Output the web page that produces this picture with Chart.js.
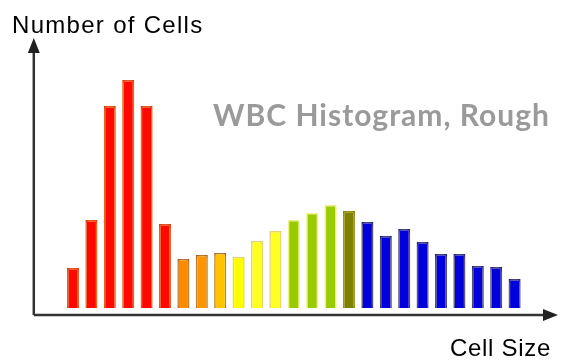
<!DOCTYPE html>
<html>
<head>
<meta charset="utf-8">
<script src="https://cdn.jsdelivr.net/npm/chart.js@4"></script>
<style>
  body { margin: 0; background: #fff; }
  #wrap { width: 561px; height: 360px; position: relative; }
</style>
</head>
<body>
<div id="wrap"><canvas id="chart"></canvas></div>
<script>
// cell size bins and counts
const bins = ["1", "2", "3", "4", "5", "6", "7", "8", "9", "10", "11", "12", "13",
  "14", "15", "16", "17", "18", "19", "20", "21", "22", "23", "24", "25"];
const counts = [40, 88, 202, 228, 202, 84, 49, 53, 55, 51, 67, 77, 88,
  95, 103, 97, 86, 72, 79, 66, 54, 54, 42, 41, 29];
const titleText = "WBC Histogram, Rough";
const yLabel = "Number of Cells";
const xLabel = "Cell Size";

// colours per bar
const fills = [
  "#ff0800", "#ff0800", "#ff0800", "#ff0800", "#ff0800", "#ff0800",
  "#ff8a00", "#ff9500", "#ffc400",
  "#ffff00", "#ffff22", "#ffff22",
  "#99cc00", "#99cc00", "#99cc00", "#808000",
  "#0000dd", "#0000dd", "#0000dd", "#0000dd", "#0000dd", "#0000dd", "#0000dd", "#0000dd", "#0000dd"
];
const borders = [
  "#d42000", "#d42000", "#d42000", "#d42000", "#d42000", "#d42000",
  "#9a4a1a", "#9a4a1a", "#9a4a1a",
  "#e0c870", "#e0c870", "#e0c870",
  "#e8f090", "#e8f090", "#e8f090", "#6e6e00",
  "#000088", "#000088", "#000088", "#000088", "#000088", "#000088", "#000088", "#000088", "#000088"
];

const decor = {
  id: "decor",
  beforeDatasetsDraw(chart) {
    const ctx = chart.ctx;
    ctx.save();
    ctx.shadowColor = "rgba(255, 240, 110, 0.9)";
    ctx.shadowBlur = 5;
  },
  afterDatasetsDraw(chart) {
    chart.ctx.restore();
  },
  afterDraw(chart) {
    const ctx = chart.ctx;
    const a = chart.chartArea;
    const ax = a.left - 30;
    const ay = a.bottom + 7;
    ctx.save();
    ctx.strokeStyle = "#333";
    ctx.fillStyle = "#222";
    ctx.lineWidth = 2.5;
    ctx.beginPath();
    ctx.moveTo(ax, ay);
    ctx.lineTo(ax, 50);
    ctx.moveTo(ax, ay);
    ctx.lineTo(546, ay);
    ctx.stroke();
    // arrow heads
    ctx.beginPath();
    ctx.moveTo(ax, 38);
    ctx.lineTo(ax - 6, 53);
    ctx.lineTo(ax + 6, 53);
    ctx.closePath();
    ctx.fill();
    ctx.beginPath();
    ctx.moveTo(558, ay);
    ctx.lineTo(543, ay - 6);
    ctx.lineTo(543, ay + 6);
    ctx.closePath();
    ctx.fill();

    ctx.fillStyle = "#000";
    ctx.font = "24px 'Liberation Sans', Arial, sans-serif";
    ctx.textBaseline = "alphabetic";
    ctx.textAlign = "left";
    ctx.letterSpacing = "1.3px";
    ctx.fillText(yLabel, 12, 33);
    ctx.letterSpacing = "0.7px";
    ctx.textAlign = "left";
    ctx.fillText(xLabel, 450, 356);

    ctx.fillStyle = "#9a9a9a";
    ctx.font = "bold 30px Lato, 'Open Sans', sans-serif";
    ctx.letterSpacing = "1px";
    ctx.textAlign = "left";
    ctx.fillText(titleText, 213, 126);
    ctx.restore();
  }
};

new Chart(document.getElementById("chart"), {
  type: "bar",
  data: {
    labels: bins,
    datasets: [{
      data: counts,
      backgroundColor: fills,
      borderColor: borders,
      borderWidth: 1.5,
      barPercentage: 0.65,
      categoryPercentage: 1
    }]
  },
  options: {
    responsive: true,
    maintainAspectRatio: false,
    animation: false,
    layout: { padding: { left: 63.8, right: 37.2, top: 58, bottom: 52 } },
    plugins: { legend: { display: false }, tooltip: { enabled: false } },
    scales: {
      x: { display: false },
      y: { display: false, min: 0, max: 250 }
    }
  },
  plugins: [decor]
});
</script>
</body>
</html>
